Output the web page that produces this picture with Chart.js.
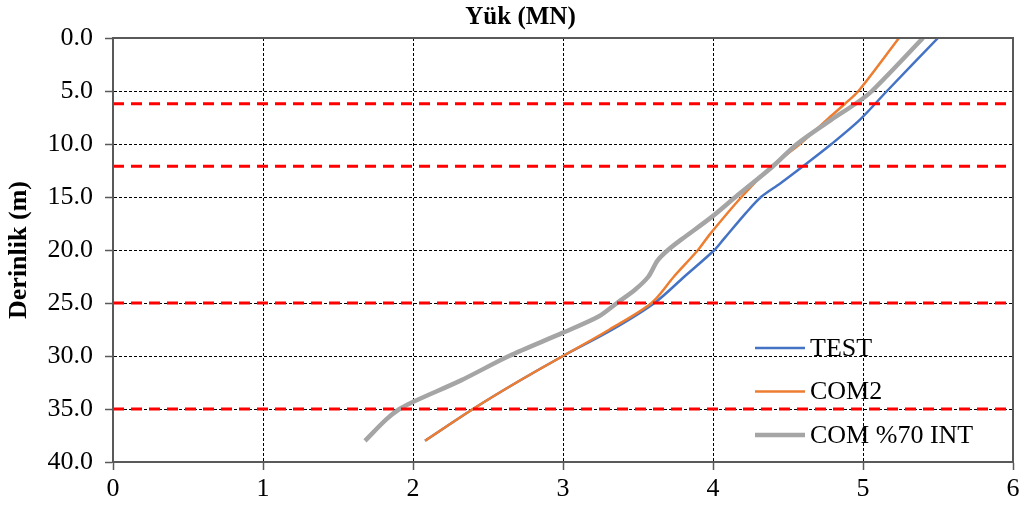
<!DOCTYPE html>
<html>
<head>
<meta charset="utf-8">
<script src="https://cdn.jsdelivr.net/npm/chart.js"></script>
<style>
  html, body { margin: 0; padding: 0; background: #fff; }
</style>
</head>
<body>
<canvas id="chart" width="1036" height="509"></canvas>
<script>
// depth (m) and load (MN)
const testDepth = [0, 5, 7.7, 10, 12.1, 13.7, 15, 16.5, 19, 20, 22.5, 25, 27.5, 30, 32.5, 35, 38];
const testLoad  = [5.50, 5.16, 4.98, 4.79, 4.60, 4.45, 4.32, 4.22, 4.07, 4.01, 3.81, 3.61, 3.33, 3.00, 2.69, 2.40, 2.08];

const com2Depth = [0, 5, 6.2, 7.7, 10, 12.1, 15, 18.5, 20, 22.5, 25, 27.5, 30, 32.5, 35, 38];
const com2Load  = [5.24, 4.97, 4.88, 4.76, 4.58, 4.39, 4.19, 3.98, 3.90, 3.74, 3.59, 3.31, 3.00, 2.69, 2.40, 2.08];

const com70Depth = [0, 5, 6.2, 7.7, 10, 12.1, 15, 16.9, 19, 20, 21, 22.5, 23.75, 25, 26.25, 27.8, 30, 32.3, 34.2, 35, 36, 38];
const com70Load  = [5.40, 5.06, 4.95, 4.79, 4.56, 4.40, 4.15, 3.99, 3.79, 3.70, 3.63, 3.57, 3.48, 3.36, 3.24, 3.00, 2.64, 2.32, 2.02, 1.91, 1.82, 1.68];

const layerDepths = [6.2, 12.1, 25, 35];
const seriesNames = ['TEST', 'COM2', 'COM %70 INT'];

const xTicks = [0, 1, 2, 3, 4, 5, 6];
const yTicks = [0, 5, 10, 15, 20, 25, 30, 35, 40];

const serif = "'Liberation Serif', 'Times New Roman', serif";
const axisGray = '#595959';

function toPoints(depths, loads) {
  return depths.map((d, i) => ({ x: loads[i], y: d }));
}

const layerSets = layerDepths.map((d) => ({
  label: 'layer',
  isLayer: true,
  data: [{ x: xTicks[0], y: d }, { x: xTicks[xTicks.length - 1], y: d }],
  showLine: true,
  borderColor: '#FF0000',
  borderWidth: 3,
  borderDash: [11, 7],
  pointRadius: 0,
  tension: 0,
  order: 0
}));

const curveSets = [
  { label: seriesNames[0], data: toPoints(testDepth, testLoad), borderColor: '#4472C4', borderWidth: 2.5, order: 3 },
  { label: seriesNames[1], data: toPoints(com2Depth, com2Load), borderColor: '#ED7D31', borderWidth: 2.5, order: 2 },
  { label: seriesNames[2], data: toPoints(com70Depth, com70Load), borderColor: '#A5A5A5', borderWidth: 4.5, order: 1 }
].map((s) => Object.assign(s, { showLine: true, pointRadius: 0, tension: 0.3, fill: false }));

// frame around the plot area
const framePlugin = {
  id: 'frame',
  afterDatasetsDraw(chart) {
    const { ctx, chartArea: a } = chart;
    ctx.save();
    ctx.strokeStyle = axisGray;
    ctx.lineWidth = 2;
    ctx.strokeRect(a.left, a.top, a.right - a.left, a.bottom - a.top);
    ctx.restore();
  }
};

// legend sitting inside the plot, lower right
const insideLegend = {
  id: 'insideLegend',
  afterDraw(chart) {
    const { ctx, chartArea: a } = chart;
    const sets = chart.data.datasets.filter((d) => !d.isLayer);
    const x0 = a.left + 642;
    let y = a.top + 310;
    ctx.save();
    ctx.font = '26px ' + serif;
    ctx.textBaseline = 'middle';
    ctx.fillStyle = '#000';
    sets.forEach((ds) => {
      ctx.strokeStyle = ds.borderColor;
      ctx.lineWidth = ds.borderWidth;
      ctx.beginPath();
      ctx.moveTo(x0, y);
      ctx.lineTo(x0 + 50, y);
      ctx.stroke();
      ctx.fillText(ds.label, x0 + 55, y + 1);
      y += 43.5;
    });
    ctx.restore();
  }
};

new Chart(document.getElementById('chart'), {
  type: 'scatter',
  data: { datasets: curveSets.concat(layerSets) },
  options: {
    responsive: false,
    animation: false,
    layout: { padding: { left: 28, right: 23, top: 0, bottom: 0 } },
    plugins: {
      legend: { display: false },
      tooltip: { enabled: false },
      title: {
        display: true,
        text: 'Yük (MN)',
        color: '#000',
        font: { family: serif, size: 25, weight: 'bold' },
        padding: { top: 3, bottom: 5 }
      }
    },
    scales: {
      x: {
        type: 'linear',
        position: 'bottom',
        min: 0,
        max: 6,
        afterBuildTicks: (s) => { s.ticks = xTicks.map((v) => ({ value: v })); },
        afterFit: (s) => { s.height = 47; },
        ticks: { color: '#000', font: { family: serif, size: 26 }, padding: 4 },
        grid: { color: '#000', lineWidth: 1, tickColor: axisGray, tickLength: 8, tickWidth: 1.5, tickBorderDash: [] },
        border: { color: axisGray, width: 2, dash: [3, 2] }
      },
      y: {
        type: 'linear',
        reverse: true,
        min: 0,
        max: 40,
        afterBuildTicks: (s) => { s.ticks = yTicks.map((v) => ({ value: v })); },
        afterFit: (s) => { s.width = 85; },
        title: {
          display: true,
          text: 'Derinlik (m)',
          color: '#000',
          font: { family: serif, size: 26, weight: 'bold' },
          padding: { top: -24, bottom: 0 }
        },
        ticks: {
          color: '#000',
          font: { family: serif, size: 26 },
          padding: 12,
          callback: (v) => Number(v).toFixed(1)
        },
        grid: { color: '#000', lineWidth: 1, tickColor: axisGray, tickLength: 8, tickWidth: 1.5, tickBorderDash: [] },
        border: { color: axisGray, width: 2, dash: [3, 2] }
      }
    }
  },
  plugins: [framePlugin, insideLegend]
});
</script>
</body>
</html>
